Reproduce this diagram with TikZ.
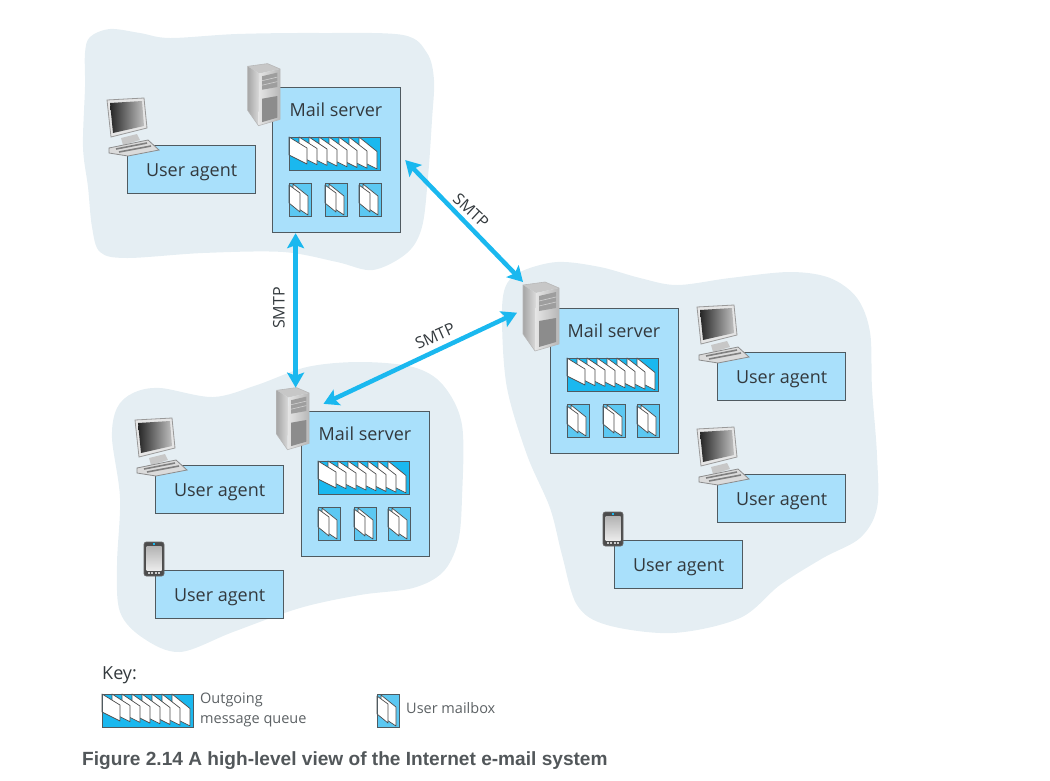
\documentclass[tikz,border=0pt]{standalone}
\usepackage{fontspec}
\setmainfont{Open Sans}
\newfontfamily\capfont{Liberation Sans}
\usetikzlibrary{positioning, arrows.meta}

\definecolor{blobcol}{HTML}{E5EEF3}
\definecolor{boxcol}{HTML}{A9E0FB}
\definecolor{edgecol}{HTML}{4F5A60}
\definecolor{inkcol}{HTML}{33393D}
\definecolor{smtpcol}{HTML}{1AB8EF}
\definecolor{mboxcol}{HTML}{5CC8F2}

\tikzset{
	blob/.style={fill=blobcol},
	uabox/.style={draw=edgecol, line width=1.2pt, fill=boxcol, minimum width=128pt, minimum height=48pt, inner sep=0pt, text=inkcol, text depth=0pt, font=\fontsize{18}{20}\selectfont},
	msbox/.style={draw=edgecol, line width=1.2pt, fill=boxcol, minimum width=128pt, minimum height=145pt, inner sep=0pt},
	title/.style={text=inkcol, inner sep=0pt, font=\fontsize{18}{20}\selectfont},
	link/.style={draw=smtpcol, line width=4.5pt, {Stealth[length=15pt,width=17pt,inset=3pt]}-{Stealth[length=15pt,width=17pt,inset=3pt]}},
	linklabel/.style={text=inkcol, inner sep=0pt, font=\fontsize{16}{18}\selectfont},
	keylabel/.style={text=inkcol!80, inner sep=0pt, font=\fontsize{14.5}{20}\selectfont, align=left},
	sheet/.style={draw=black!70, line width=.7pt, fill=white, line join=round},
	pics/queue/.style={code={
		\fill[smtpcol] (0,0) rectangle (91,33);
		\foreach \i in {7,...,0}
			\draw[sheet] (10*\i,0) -- (10*\i+18,11+.5*\i) -- (10*\i+18,27+.7*\i) -- (10*\i,18+.7*\i) -- cycle;
		\draw[edgecol, line width=1pt] (0,0) rectangle (91,33);
	}},
	pics/mailbox/.style={code={
		\fill[mboxcol] (0,0) rectangle (22,33);
		\draw[sheet] (4,1) -- (19,13) -- (19,32) -- (4,22) -- cycle;
		\draw[sheet] (0,2) -- (11,10) -- (11,29) -- (0,20) -- cycle;
		\draw[edgecol, line width=1pt] (0,0) rectangle (22,33);
	}},
	pics/tower/.style={code={
		\begin{scope}[scale=#1]
			\fill[black!22] (0,3) -- (22,0) -- (36,6) -- (13,11) -- cycle;
			\shade[left color=black!35, right color=black!14] (0,3) -- (13,11) -- (12,69) -- (0,52) -- cycle;
			\shade[left color=black!10, right color=black!28] (13,11) -- (36,6) -- (36,62) -- (12,69) -- cycle;
			\fill[black!38] (16,14) -- (33,10) -- (33,26) -- (16,29) -- cycle;
			\draw[black!18, line width=.6pt] (16,19) -- (33,15) (16,24) -- (33,20);
			\fill[black!45] (16,39) -- (33,36) -- (33,60) -- (16,65) -- cycle;
			\draw[black!28, line width=.6pt] (0,3) -- (22,0) -- (36,6) -- (36,62) -- (12,69) -- (0,52) -- cycle;
		\end{scope}
	}},
	pics/monitor/.style={code={
		\fill[black!22] (14,40) -- (30,36) -- (33,42) -- (16,47) -- cycle;
		\draw[black!40, fill=black!10, line width=.8pt] (0,2) -- (37,0) -- (40,30) -- (4,39) -- cycle;
		\shade[left color=black!85, right color=black!25] (3,5) -- (35,3) -- (37,28) -- (6,35) -- cycle;
		\draw[black!45, fill=black!14, line width=.8pt] (2,50) -- (41,42) -- (52,52) -- (21,58) -- (2,55) -- cycle;
		\draw[black!50, line width=1.6pt] (9,51) -- (40,45) (12,54) -- (44,48);
	}},
	pics/phone/.style={code={
		\draw[black!60, fill=black!70, line width=.8pt, rounded corners=2.5pt] (0,0) rectangle (20,34);
		\shade[top color=black!30, bottom color=black!8] (2.5,4) rectangle (17.5,28);
		\fill[smtpcol] (9,1.2) rectangle (11,2.6);
		\foreach \i in {0,...,3}
			\fill[black!20] (3.5+3.5*\i,30) rectangle (5.5+3.5*\i,32);
	}},
	pics/mailserver/.style={code={
		\node[msbox, anchor=north west] (-box) at (0,0) {};
		\node[title, anchor=north] (-title) at (64,16) {Mail server};
		\pic at (17,50) {queue};
		\pic at (17,96) {mailbox};
		\pic at (53,96) {mailbox};
		\pic at (87,96) {mailbox};
		\pic at (-27*#1,-26*#1) {tower=#1};
		\node[minimum width=36*#1 pt, minimum height=69*#1 pt, inner sep=0pt, anchor=north west] (-srv) at (-27*#1,-26*#1) {};
	}},
}

\begin{document}
\begin{tikzpicture}[x=1pt, y=-1pt]
	\useasboundingbox (0,0) rectangle (1050,780);

	\fill[blob] plot[smooth cycle, tension=.55] coordinates {(85,53) (90,37) (110,29) (140,33) (170,38) (237,34) (320,33) (403,35) (427,53) (434,80) (432,120) (428,177) (422,227) (407,253) (373,270) (337,262) (283,252) (203,253) (127,258) (100,252) (92,227) (88,187) (83,147) (85,87)};
	\fill[blob] plot[smooth cycle, tension=.55] coordinates {(112,438) (117,408) (133,393) (160,388) (213,397) (257,385) (307,367) (360,362) (413,367) (443,385) (462,425) (462,498) (458,542) (443,572) (413,588) (360,595) (300,608) (233,632) (180,652) (143,638) (120,612) (117,565) (120,498)};
	\fill[blob] plot[smooth cycle, tension=.55] coordinates {(502,322) (505,288) (520,272) (557,262) (600,267) (640,278) (677,285) (730,278) (790,272) (830,278) (857,298) (870,332) (872,388) (877,455) (877,508) (860,538) (823,558) (780,585) (740,618) (673,633) (607,625) (577,605) (562,555) (550,508) (527,455) (507,388)};

	\pic (mailA) at (272,87) {mailserver={.9}};
	\pic (mailB) at (301,411) {mailserver={.9}};
	\pic (mailC) at (550,308) {mailserver={1}};

	\node[uabox, anchor=north west] (uaA) at (127,145) {User agent};
	\pic at (107,98) {monitor};
	\node[uabox, anchor=north west] (uaB) at (155,465) {User agent};
	\pic at (135,418) {monitor};
	\node[uabox, anchor=north west] (uaD) at (155,570) {User agent};
	\pic at (144,542) {phone};
	\node[uabox, anchor=north west] (uaE) at (717,352) {User agent};
	\pic at (697,305) {monitor};
	\node[uabox, anchor=north west] (uaF) at (717,474) {User agent};
	\pic at (697,427) {monitor};
	\node[uabox, anchor=north west] (uaG) at (614,540) {User agent};
	\pic at (603,512) {phone};

	\draw[link] ([xshift=-41pt]mailA-box.south) -- ([xshift=-41pt]mailA-box.south |- mailB-srv.north);
	\draw[link] ([xshift=4pt]mailA-box.east) -- (mailC-srv.north west);
	\draw[link] ([shift={(14,-15)}]mailB-srv.east) -- ([shift={(-6,-4)}]mailC-srv.west);

	\node[linklabel, rotate=90] (smtpAB) at (279,308) {SMTP};
	\node[linklabel, rotate=-43] (smtpAC) at (471,211) {SMTP};
	\node[linklabel, rotate=24] (smtpBC) at (435,336) {SMTP};

	\node[title, anchor=west] (keytitle) at (102,675) {Key:};
	\pic (keyq) at (102,694) {queue};
	\node[keylabel, anchor=west] (keyqlabel) at (200,710) {Outgoing\\message queue};
	\pic (keym) at (377,694) {mailbox};
	\node[keylabel, anchor=west] (keymlabel) at (406,708) {User mailbox};

	\node[anchor=west, inner sep=0pt, text=inkcol!85, font=\capfont\bfseries\fontsize{19.1}{21}\selectfont] (caption) at (82,761) {Figure 2.14 A high-level view of the Internet e-mail system};
\end{tikzpicture}
\end{document}
